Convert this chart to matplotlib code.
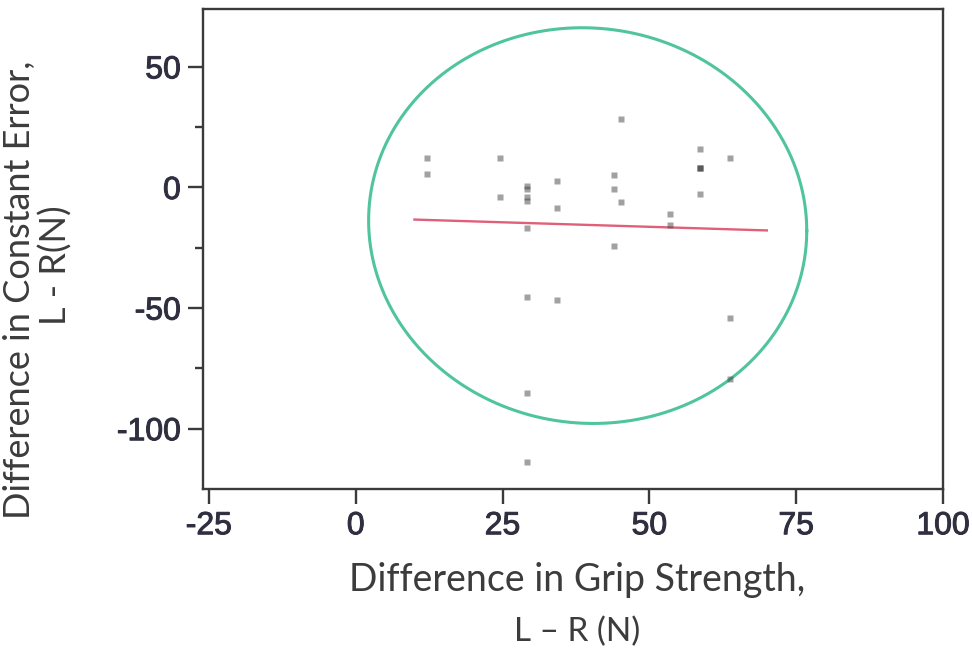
import matplotlib
matplotlib.use("Agg")
import matplotlib.pyplot as plt
import matplotlib.patheffects as pe
import numpy as np

# points (grip diff, constant error diff)
grip_diff = [12.2, 12.2, 24.5, 24.5, 29.1, 29.1, 29.1, 29.1, 29.1, 29.1, 29.1, 29.1,
             34.2, 34.2, 34.2, 44.0, 44.0, 44.0, 45.1, 45.1, 53.6, 53.6,
             58.7, 58.7, 58.7, 58.7, 58.7, 63.8, 63.8, 63.8]
error_diff = [12.4, 5.8, 12.4, -4.1, 0.8, -0.8, -4.1, -5.8, -17.0, -45.2, -85.0, -114.0,
              2.5, -8.3, -46.5, 5.0, -0.8, -24.1, 28.2, -6.2, -10.8, -15.4,
              15.8, 7.9, 7.9, 7.9, -2.9, 12.4, -53.9, -79.3]

# fitted line end points
fit_x = [10, 70]
fit_y = [-13.3, -17.8]

# density ellipse: centre, half-width, half-height, shear
ell_cx, ell_cy = 39.5, -15.8
ell_a, ell_b, ell_c = 37.3, 82.0, -2.1

x_ticks = [-25, 0, 25, 50, 75, 100]
y_ticks = [-100, -50, 0, 50]
y_minor = [-75, -25, 25]

plt.rcParams["font.family"] = ["Liberation Sans", "DejaVu Sans"]
fig = plt.figure(figsize=(9.72, 6.55), dpi=100)
ax = fig.add_axes([203 / 972, 1 - 489 / 655, 740 / 972, 480 / 655])

ax.plot(grip_diff, error_diff, "s", ms=4.0, color="#444444", alpha=0.5, mec="none", zorder=3)
ax.plot(fit_x, fit_y, color="#e0607a", lw=1.7, zorder=2)

t = np.linspace(0, 2 * np.pi, 400)
ax.plot(ell_cx + ell_a * np.cos(t), ell_cy + ell_b * np.sin(t) + ell_c * np.cos(t),
        color="#4fc49e", lw=2.2, zorder=2)

ax.set_xlim(-26, 100)
ax.set_ylim(-125, 74)
ax.set_xticks(x_ticks)
ax.set_yticks(y_ticks)
ax.set_yticks(y_minor, minor=True)
ax.set_xticklabels([str(v) for v in x_ticks])
ax.set_yticklabels([str(v) for v in y_ticks])

for s in ax.spines.values():
    s.set_color("#3a3a3a")
    s.set_linewidth(1.7)
ax.tick_params(which="major", length=11, width=1.7, color="#3a3a3a",
               labelsize=23, labelcolor="#2f2f40", pad=5)
ax.tick_params(which="minor", length=6, width=1.7, color="#3a3a3a")
for lbl in ax.get_xticklabels() + ax.get_yticklabels():
    lbl.set_path_effects([pe.withStroke(linewidth=0.7, foreground="#2f2f40")])

xlab = dict(family=["Lato", "DejaVu Sans"], fontsize=27, color="#3c3c3c")
ylab = dict(family=["Lato", "DejaVu Sans"], fontsize=26, color="#3c3c3c")
fig.text(577 / 972, 1 - 580 / 655, "Difference in Grip Strength,", ha="center", va="center", **xlab)
fig.text(577 / 972, 1 - 632 / 655, "L \u2013 R (N)", ha="center", va="center",
         family=["Lato", "DejaVu Sans"], fontsize=24, color="#3c3c3c")
fig.text(20 / 972, 1 - 290 / 655, "Difference in Constant Error,", ha="center", va="center",
         rotation=90, **ylab)
fig.text(56 / 972, 1 - 265 / 655, "L - R(N)", ha="center", va="center", rotation=90, **ylab)

fig.savefig("out.png", dpi=100)
